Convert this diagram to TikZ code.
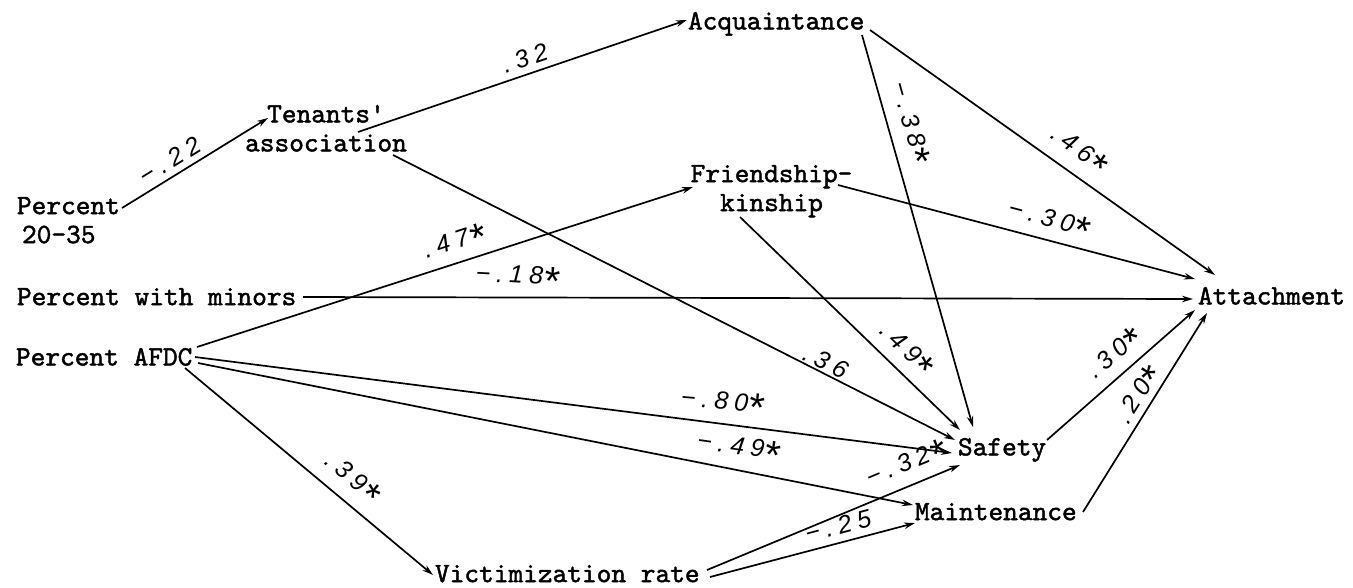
\documentclass[tikz,border=0pt]{standalone}
\usepackage{fontspec}
\usetikzlibrary{arrows.meta,calc}
\newfontfamily\tw[FakeBold=1.6]{lmmono10-regular.otf}
\newfontfamily\hand[LetterSpace=24]{Liberation Sans}
\newcommand\hstar{{\fontsize{40}{40}\selectfont\raisebox{-0.45ex}{*}}}
\begin{document}
\begin{tikzpicture}[x=1pt,y=-1pt,
  var/.style={inner sep=0pt, outer sep=0pt, font=\tw\fontsize{28}{29}\selectfont, anchor=north west},
  varc/.style={var, anchor=north, align=center},
  varl/.style={var, align=left},
  link/.style={line width=1.7pt, -{Stealth[length=11pt,width=6.5pt]}},
  coef/.style={inner sep=0pt, font=\hand\itshape\fontsize{25}{25}\selectfont}]
\useasboundingbox[fill=white] (0,0) rectangle (1353,587);
% variables
\node[varl] (p2035) at (17,197) {Percent\\\hspace*{5pt}20-35};
\node[varc] (tenants) at (326,105) {Tenants\textquotesingle\\association};
\node[var] (acq) at (688,12) {Acquaintance};
\node[varc] (friend) at (771.5,165) {Friendship-\\kinship};
\node[var] (minors) at (17,288) {Percent with minors};
\node[var] (afdc) at (16,348) {Percent AFDC};
\node[var] (attach) at (1198,287) {Attachment};
\node[var] (safety) at (958,438) {Safety};
\node[var] (maint) at (915,503) {Maintenance};
\node[var] (vict) at (435,565) {Victimization rate};
% paths
\draw[link] ($(p2035.north west)+(105,11)$) -- ($(tenants.north)+(-58,13)$);
\draw[link] ($(tenants.north)+(32,27)$) -- ($(acq.north west)+(-1,8)$);
\draw[link] ($(tenants.north)+(67,50)$) -- ($(safety.north west)+(-3,2)$);
\draw[link] ($(acq.north west)+(174,23)$) -- ($(safety.north west)+(15,-11)$);
\draw[link] ($(acq.north west)+(182,18)$) -- ($(attach.north west)+(17,-12)$);
\draw[link] ($(friend.north)+(66.5,20)$) -- ($(attach.north west)+(-3,-8)$);
\draw[link] ($(friend.north)+(-31.5,52)$) -- ($(safety.north west)+(2,-8)$);
\draw[link] ($(minors.north west)+(286,9)$) -- ($(attach.north west)+(-5,12)$);
\draw[link] ($(afdc.north west)+(181,-1)$) -- ($(friend.north)+(-78.5,22)$);
\draw[link] ($(afdc.north west)+(179,9)$) -- ($(safety.north west)+(-6,15)$);
\draw[link] ($(afdc.north west)+(182,15)$) -- ($(maint.north west)+(-2,2)$);
\draw[link] ($(afdc.north west)+(169,20)$) -- ($(vict.north west)+(-2,10)$);
\draw[link] ($(vict.north west)+(272,5)$) -- ($(safety.north west)+(2,27)$);
\draw[link] ($(vict.north west)+(275,12)$) -- ($(maint.north west)+(0,20)$);
\draw[link] ($(safety.north west)+(89,2)$) -- ($(attach.north west)+(-3,23)$);
\draw[link] ($(maint.north west)+(168,9)$) -- ($(attach.north west)+(9,26)$);
% coefficients
\node[coef, rotate=31.6] (c1) at (170,160) {−.22};
\node[coef, rotate=18.8] (c2) at (525,58) {.32};
\node[coef, rotate=-26.9] (c3) at (826,362) {.36};
\node[coef, rotate=-74.2] (c4) at (907,123) {−.38\hstar};
\node[coef, rotate=-35.4] (c5) at (1077,152) {.46\hstar};
\node[coef, rotate=-14.7] (c6) at (1048,222) {−.30\hstar};
\node[coef, rotate=-44] (c7) at (904,351) {.49\hstar};
\node[coef, rotate=-3] (c8) at (517,279) {−.18\hstar};
\node[coef, rotate=17.9] (c9) at (455,245) {.47\hstar};
\node[coef, rotate=-5] (c10) at (722,405) {−.80\hstar};
\node[coef, rotate=-8] (c11) at (738,450) {−.49\hstar};
\node[coef, rotate=-39.9] (c12) at (350,480) {.39\hstar};
\node[coef, rotate=22.5] (c13) at (907,467) {−.32\hstar};
\node[coef, rotate=14.8] (c14) at (838,526) {−.25};
\node[coef, rotate=41.3] (c15) at (1116,356) {.30\hstar};
\node[coef, rotate=58] (c16) at (1141,397) {.20\hstar};
\end{tikzpicture}
\end{document}
